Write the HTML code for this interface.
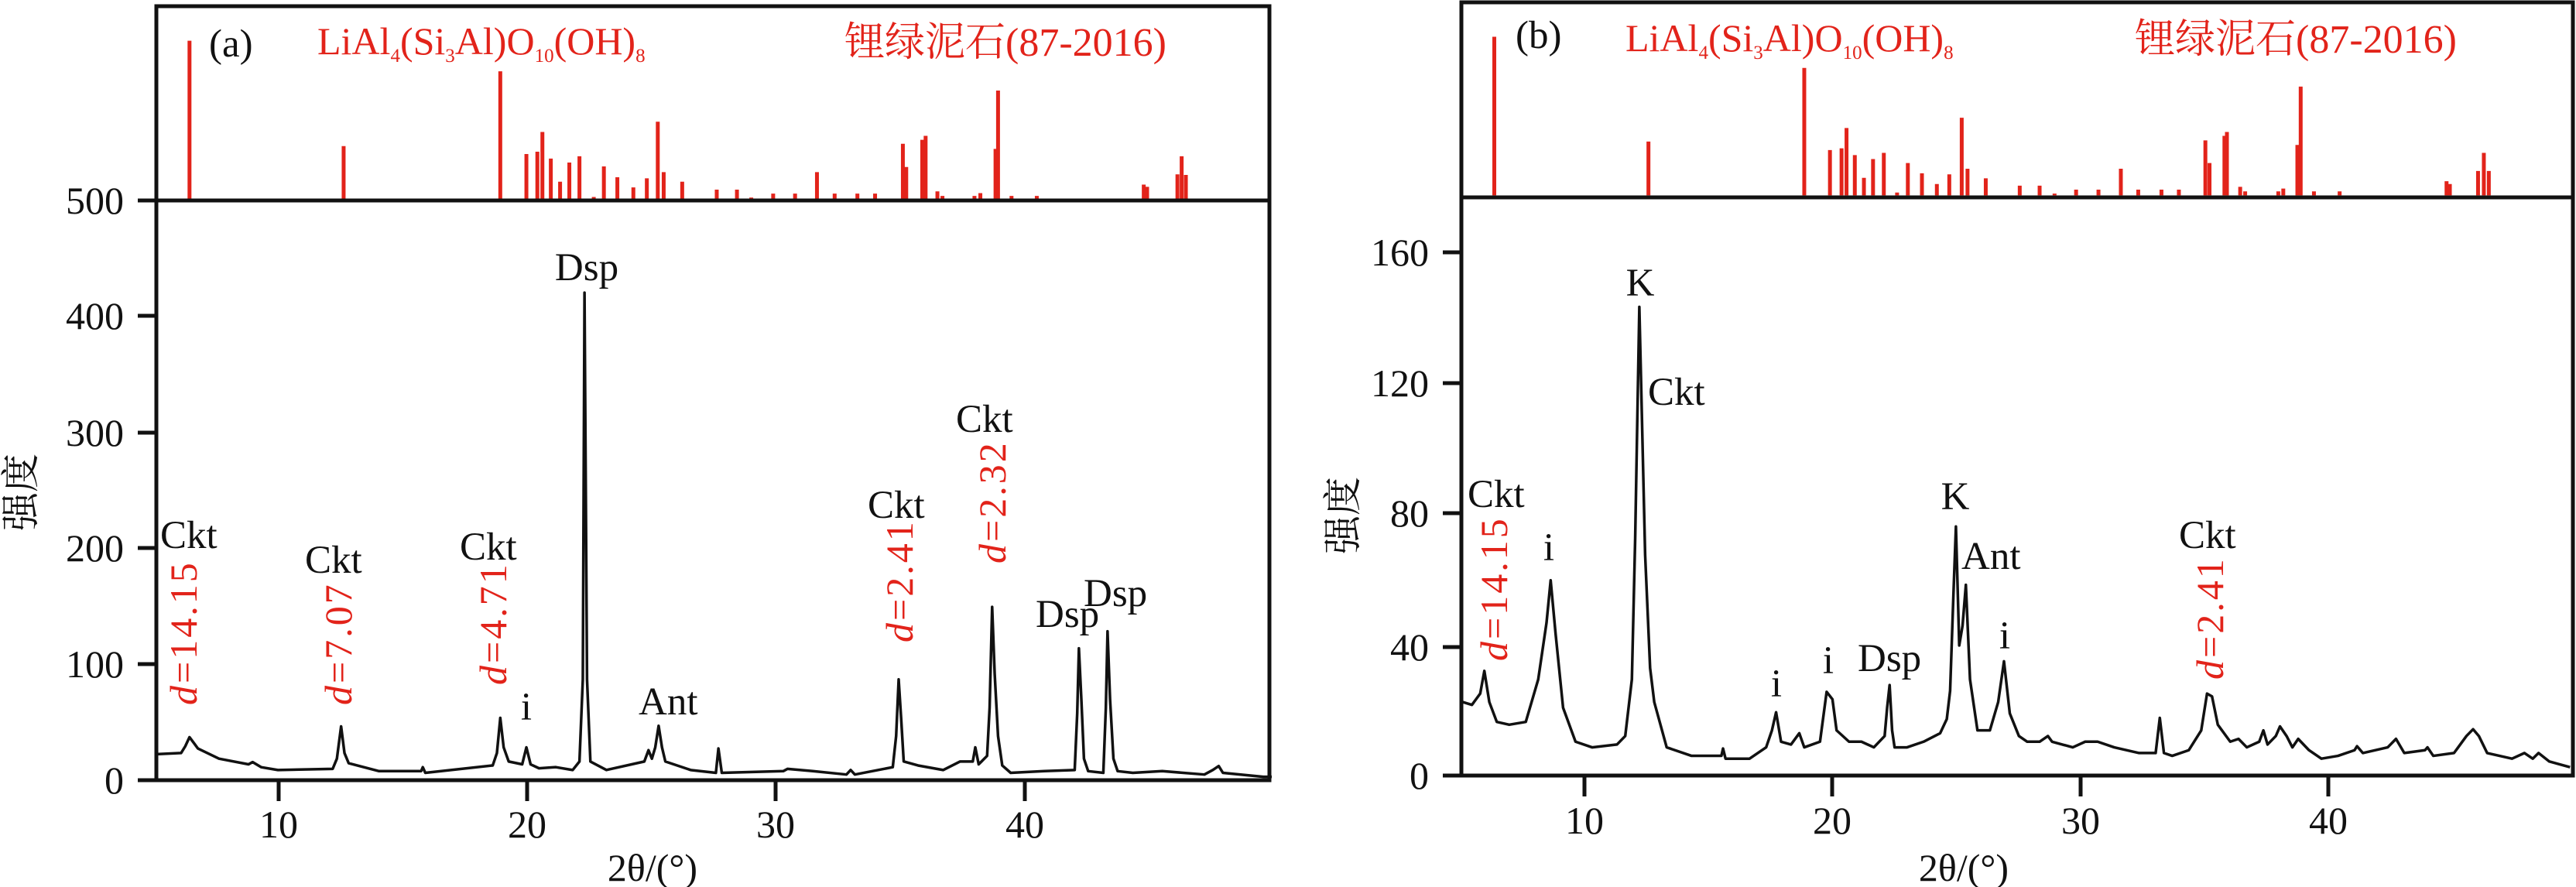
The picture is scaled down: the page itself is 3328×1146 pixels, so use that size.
<!DOCTYPE html>
<html><head><meta charset="utf-8"><style>html,body{margin:0;padding:0;background:#fff}svg{display:block}
text{font-family:"Liberation Serif","Noto Serif CJK SC",serif}
.cjk{font-family:"Noto Serif CJK SC","Noto Sans CJK SC",serif}
</style></head><body>
<svg width="3328" height="1146" viewBox="0 0 3328 1146" xmlns="http://www.w3.org/2000/svg">
<rect width="3328" height="1146" fill="#fff"/>
<!-- PANEL A -->
<g transform="scale(1.0881,0.7315)">
<path vector-effect="non-scaling-stroke" stroke="#e2231a" stroke-width="5" fill="none" d="M225 354V72M408 354V258M594 354V126M625 354V272M638 354V268M644 354V233M654 354V280M665 354V321M676 354V287M688 354V276M705 354V348M717 354V294M733 354V313M752 354V331M768 354V315M781 354V215M788 354V304M810 354V321M851 354V335M875 354V335M892 354V349M918 354V342M944 354V342M970 354V304M991 354V342M1018 354V342M1039 354V342M1072 354V254M1076 354V295M1095 354V247M1099 354V240M1113 354V338M1119 354V346M1157 354V346M1164 354V341M1182 354V263M1185 354V160M1201 354V346M1231 354V346M1358 354V326M1362 354V330M1398 354V308M1403 354V276M1408 354V309"/>
<polyline vector-effect="non-scaling-stroke" fill="none" stroke="#111" stroke-width="3.5" stroke-linejoin="round" points="186,1332 215,1330 220,1318 225,1302 230,1312 235,1322 260,1340 295,1350 300,1346 310,1355 330,1360 395,1358 400,1340 405,1283 409,1330 414,1348 450,1362 500,1362 502,1355 505,1365 585,1352 590,1330 594,1268 598,1320 604,1345 620,1350 625,1320 630,1350 640,1357 660,1355 680,1360 688,1345 692,1200 694,517 697,1200 701,1345 720,1360 765,1345 770,1325 774,1340 778,1320 782,1282 786,1320 790,1345 820,1360 850,1365 853,1322 857,1365 930,1362 935,1358 965,1362 1005,1368 1010,1360 1015,1368 1060,1355 1064,1300 1067,1200 1070,1270 1073,1345 1090,1352 1120,1360 1140,1345 1155,1345 1158,1320 1162,1350 1172,1335 1175,1250 1178,1072 1181,1190 1185,1300 1190,1352 1200,1365 1240,1362 1276,1360 1279,1260 1281,1145 1284,1238 1287,1340 1292,1362 1310,1365 1313,1250 1315,1115 1318,1235 1322,1340 1327,1362 1345,1365 1380,1362 1430,1368 1440,1360 1447,1353 1452,1365 1500,1372 1510,1372"/>
</g>
<g fill="none" stroke="#111" stroke-width="5">
<rect x="202" y="8" width="1438" height="1000"/>
<line x1="202" y1="259" x2="1640" y2="259"/>
<path d="M360 1008v27M681 1008v27M1002 1008v27M1324 1008v27M202 1008h-24M202 858h-24M202 708h-24M202 559h-24M202 408h-24M202 259h-24"/>
</g>
<g font-size="50" fill="#111" text-anchor="end">
<text x="160" y="1025">0</text><text x="160" y="875">100</text><text x="160" y="725">200</text><text x="160" y="576">300</text><text x="160" y="425">400</text><text x="160" y="276">500</text>
</g>
<g font-size="50" fill="#111" text-anchor="middle">
<text x="360" y="1082">10</text><text x="681" y="1082">20</text><text x="1002" y="1082">30</text><text x="1324" y="1082">40</text>
<text x="843" y="1138">2θ/(°)</text>
</g>
<text class="cjk" transform="translate(44,636) rotate(-90)" font-size="50" text-anchor="middle" fill="#111">强度</text>
<g font-size="51" fill="#111">
<text x="270" y="73">(a)</text>
<text x="758" y="362" text-anchor="middle">Dsp</text>
<text x="207" y="708">Ckt</text>
<text x="394" y="740">Ckt</text>
<text x="594" y="723">Ckt</text>
<text x="680" y="930" text-anchor="middle">i</text>
<text x="825" y="923">Ant</text>
<text x="1121" y="669">Ckt</text>
<text x="1235" y="558">Ckt</text>
<text x="1338" y="810">Dsp</text>
<text x="1400" y="783">Dsp</text>
</g>
<g font-size="50" fill="#e2231a" letter-spacing="3">
<text transform="translate(254,911) rotate(-90)"><tspan font-style="italic">d</tspan>=14.15</text>
<text transform="translate(454,911) rotate(-90)"><tspan font-style="italic">d</tspan>=7.07</text>
<text transform="translate(654,885) rotate(-90)"><tspan font-style="italic">d</tspan>=4.71</text>
<text transform="translate(1179,830) rotate(-90)"><tspan font-style="italic">d</tspan>=2.41</text>
<text transform="translate(1299,728) rotate(-90)"><tspan font-style="italic">d</tspan>=2.32</text>
</g>
<g fill="#e2231a" font-size="50">
<text x="410" y="70">LiAl<tspan font-size="25" dy="10">4</tspan><tspan dy="-10">(Si</tspan><tspan font-size="25" dy="10">3</tspan><tspan dy="-10">Al)O</tspan><tspan font-size="25" dy="10">10</tspan><tspan dy="-10">(OH)</tspan><tspan font-size="25" dy="10">8</tspan></text>
<text x="1091" y="72" font-size="52">锂绿泥石(87-2016)</text>
</g>

<!-- PANEL B -->
<g transform="translate(1650,0) scale(1.0707,0.7315)">
<path vector-effect="non-scaling-stroke" stroke="#e2231a" stroke-width="5" fill="none" d="M262 345V65M448 345V250M636 345V120M667 345V265M681 345V262M687 345V226M697 345V274M708 345V314M719 345V281M732 345V270M748 345V340M761 345V288M778 345V306M796 345V325M811 345V308M826 345V208M833 345V298M855 345V315M896 345V328M920 345V328M938 345V342M964 345V335M991 345V335M1018 345V298M1039 345V335M1067 345V335M1088 345V335M1120 345V248M1125 345V288M1143 345V240M1146 345V233M1162 345V330M1168 345V338M1208 345V338M1214 345V333M1231 345V256M1235 345V153M1251 345V338M1282 345V338M1411 345V320M1415 345V325M1449 345V302M1456 345V270M1462 345V302"/>
<polyline vector-effect="non-scaling-stroke" fill="none" stroke="#111" stroke-width="3.5" stroke-linejoin="round" points="224,1240 235,1245 245,1225 250,1185 256,1240 265,1275 280,1280 300,1275 315,1200 325,1100 330,1025 336,1120 345,1250 360,1310 380,1320 410,1315 420,1300 428,1200 432,950 437,542 440,730 444,980 450,1180 455,1240 470,1320 500,1335 536,1335 538,1322 541,1340 570,1340 590,1320 597,1290 602,1258 608,1310 620,1315 630,1295 636,1320 655,1310 663,1222 670,1235 675,1290 690,1310 705,1310 720,1320 733,1300 736,1250 739,1210 742,1290 745,1320 760,1320 780,1310 800,1295 808,1270 812,1220 816,1050 819,930 823,1140 827,1105 831,1033 836,1200 845,1290 860,1290 870,1240 877,1168 884,1260 895,1300 905,1310 920,1310 930,1300 935,1310 960,1320 975,1310 990,1310 1010,1320 1040,1330 1060,1330 1065,1268 1070,1330 1080,1335 1100,1325 1115,1290 1122,1225 1128,1230 1135,1280 1150,1310 1160,1305 1170,1320 1185,1310 1190,1290 1195,1315 1205,1300 1210,1283 1218,1300 1225,1320 1232,1305 1245,1325 1260,1340 1280,1335 1300,1325 1303,1318 1310,1330 1340,1320 1350,1305 1360,1330 1385,1325 1388,1320 1395,1335 1420,1330 1435,1300 1443,1288 1450,1300 1460,1330 1490,1340 1505,1330 1515,1340 1522,1330 1535,1345 1560,1355"/>
</g>
<g fill="none" stroke="#111" stroke-width="5">
<rect x="1888" y="3" width="1436" height="999"/>
<line x1="1888" y1="255" x2="3324" y2="255"/>
<path d="M2047 1002v27M2367 1002v27M2688 1002v27M3008 1002v27M1888 1002h-24M1888 836h-24M1888 663h-24M1888 495h-24M1888 326h-24"/>
</g>
<g font-size="50" fill="#111" text-anchor="end">
<text x="1846" y="1019">0</text><text x="1846" y="853">40</text><text x="1846" y="680">80</text><text x="1846" y="512">120</text><text x="1846" y="343">160</text>
</g>
<g font-size="50" fill="#111" text-anchor="middle">
<text x="2047" y="1077">10</text><text x="2367" y="1077">20</text><text x="2688" y="1077">30</text><text x="3008" y="1077">40</text>
<text x="2537" y="1138">2θ/(°)</text>
</g>
<text class="cjk" transform="translate(1752,666) rotate(-90)" font-size="50" text-anchor="middle" fill="#111">强度</text>
<g font-size="51" fill="#111">
<text x="1958" y="62">(b)</text>
<text x="2119" y="382" text-anchor="middle">K</text>
<text x="2129" y="523">Ckt</text>
<text x="1896" y="655">Ckt</text>
<text x="2001" y="724" text-anchor="middle">i</text>
<text x="2295" y="900" text-anchor="middle">i</text>
<text x="2362" y="870" text-anchor="middle">i</text>
<text x="2400" y="867">Dsp</text>
<text x="2526" y="658" text-anchor="middle">K</text>
<text x="2534" y="735">Ant</text>
<text x="2590" y="838" text-anchor="middle">i</text>
<text x="2815" y="708">Ckt</text>
</g>
<g font-size="50" fill="#e2231a" letter-spacing="3">
<text transform="translate(1947,854) rotate(-90)"><tspan font-style="italic">d</tspan>=14.15</text>
<text transform="translate(2872,878) rotate(-90)"><tspan font-style="italic">d</tspan>=2.41</text>
</g>
<g fill="#e2231a" font-size="50">
<text x="2100" y="66">LiAl<tspan font-size="25" dy="10">4</tspan><tspan dy="-10">(Si</tspan><tspan font-size="25" dy="10">3</tspan><tspan dy="-10">Al)O</tspan><tspan font-size="25" dy="10">10</tspan><tspan dy="-10">(OH)</tspan><tspan font-size="25" dy="10">8</tspan></text>
<text x="2758" y="68" font-size="52">锂绿泥石(87-2016)</text>
</g>
</svg>
</body></html>
